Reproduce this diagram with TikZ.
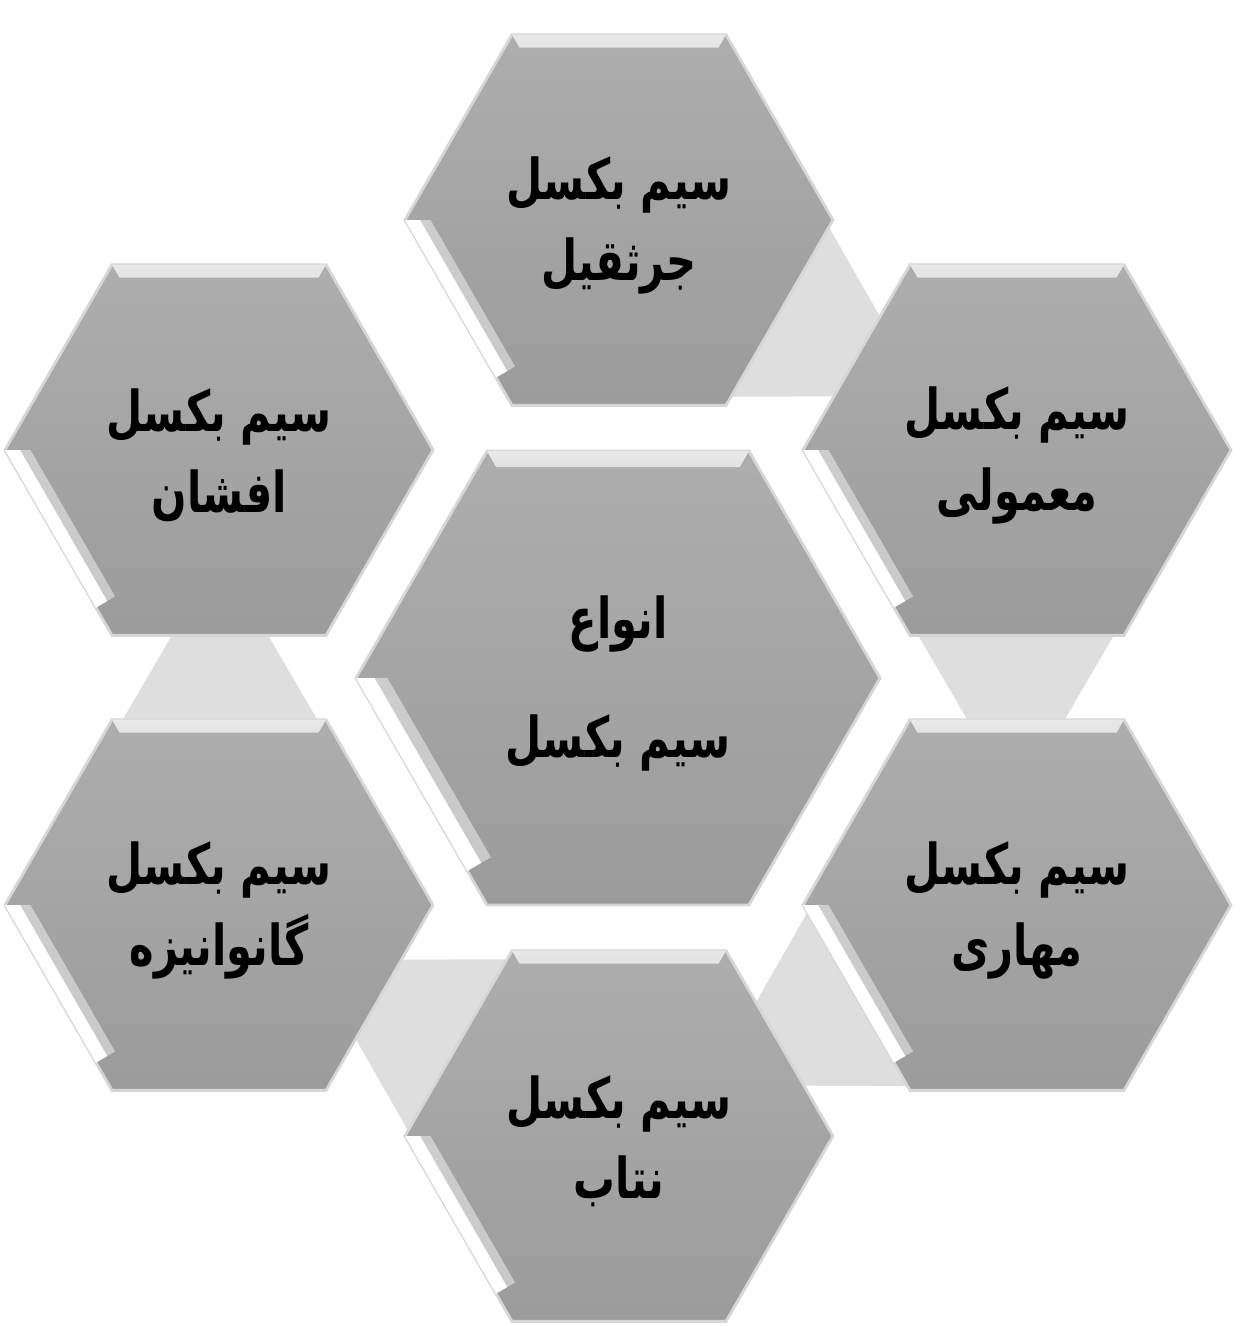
\documentclass[tikz,border=0pt]{standalone}
\usepackage{fontspec}
\newfontfamily\farsi[Script=Arabic, FakeStretch=0.74]{DejaVu Sans}
\TeXXeTstate=1
\newcommand{\fa}[1]{{\farsi\bfseries\beginR #1\endR}}
% Sechseck mit Fase: #1 Mitte, #2 Radius, #3 Fasenbreite
\newcommand{\sechseck}[3]{%
  \shade[top color=black!32, bottom color=black!39, draw=black!16, line width=0.8pt]
    (#1) ++(0:#2) -- ++(120:#2) -- ++(180:#2) -- ++(240:#2) -- ++(300:#2) -- ++(0:#2) -- cycle;
  \shade[top color=black!9, bottom color=black!32]
    (#1) ++(120:#2) -- ++(0:#2) -- ++(240:1.155*#3) -- ++(180:#2-1.155*#3) -- cycle;
  \fill[white, opacity=0.45]
    (#1) ++(180:#2) -- ++(300:0.85*#2) -- ++(30:1.7*#3) -- ++(120:0.85*#2-0.98*#3) -- cycle;
  \fill[white]
    (#1) ++(180:#2) -- ++(300:0.85*#2) -- ++(30:#3) -- ++(120:0.85*#2-0.577*#3) -- cycle;
}

\begin{document}
\begin{tikzpicture}[x=0.01cm, y=0.01cm,
    verbinder/.style={fill=black!13},
    beschriftung/.style={align=center, font=\fontsize{16}{23}\selectfont, text=black}]
    \useasboundingbox (0, 0) rectangle (1245, -1326);

    % Mittelpunkte
    \coordinate (mitte) at (618, -678);
    \coordinate (oben) at (619, -220);
    \coordinate (obenrechts) at (1017, -450);
    \coordinate (untenrechts) at (1017, -905);
    \coordinate (unten) at (619, -1136);
    \coordinate (untenlinks) at (219, -905);
    \coordinate (obenlinks) at (219, -450);

    % Verbinder
    \fill[verbinder, shift={(mitte)}, rotate=0] (290, 60) -- (506, 60) -- (436, -60) -- (360, -60) -- cycle;
    \fill[verbinder, shift={(mitte)}, rotate=60] (290, 60) -- (506, 60) -- (436, -60) -- (360, -60) -- cycle;
    \fill[verbinder, shift={(mitte)}, rotate=-60] (290, 60) -- (506, 60) -- (436, -60) -- (360, -60) -- cycle;
    \fill[verbinder, shift={(mitte)}, rotate=-120] (290, 60) -- (506, 60) -- (436, -60) -- (360, -60) -- cycle;
    \fill[verbinder, shift={(mitte)}, rotate=180] (290, 60) -- (506, 60) -- (436, -60) -- (360, -60) -- cycle;

    % Sechsecke
    \sechseck{mitte}{262}{16}
    \sechseck{oben}{214}{13}
    \sechseck{obenrechts}{214}{13}
    \sechseck{untenrechts}{214}{13}
    \sechseck{unten}{214}{13}
    \sechseck{untenlinks}{214}{13}
    \sechseck{obenlinks}{214}{13}

    % Beschriftung
    \node[beschriftung] (anva) at ([yshift=-1.5pt]mitte) {\fa{انواع}\\[11pt]\fa{سیم بکسل}};
    \node[beschriftung] (jarsaqil) at ([yshift=-1.5pt]oben) {\fa{سیم بکسل}\\\fa{جرثقیل}};
    \node[beschriftung] (mamuli) at ([yshift=-1.5pt]obenrechts) {\fa{سیم بکسل}\\\fa{معمولی}};
    \node[beschriftung] (mahari) at ([yshift=-1.5pt]untenrechts) {\fa{سیم بکسل}\\\fa{مهاری}};
    \node[beschriftung] (natab) at ([yshift=-1.5pt]unten) {\fa{سیم بکسل}\\\fa{نتاب}};
    \node[beschriftung] (galvanize) at ([yshift=-1.5pt]untenlinks) {\fa{سیم بکسل}\\\fa{گانوانیزه}};
    \node[beschriftung] (afshan) at ([yshift=-1.5pt]obenlinks) {\fa{سیم بکسل}\\\fa{افشان}};
\end{tikzpicture}
\end{document}
